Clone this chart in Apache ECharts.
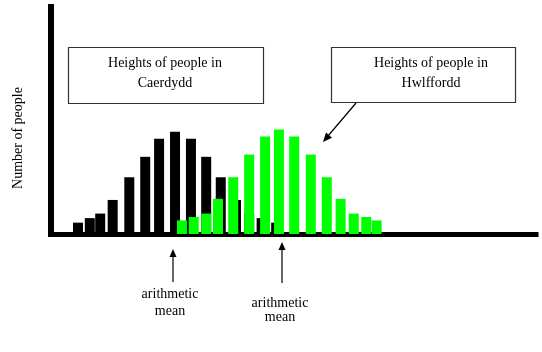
<!DOCTYPE html>
<html>
<head>
<meta charset="utf-8">
<script src="https://cdn.jsdelivr.net/npm/echarts@6/dist/echarts.min.js"></script>
<style>
  html, body { margin: 0; padding: 0; background: #fff; }
  #chart { width: 542px; height: 352px; }
</style>
</head>
<body>
<div id="chart"></div>
<script>
var caerdyddHeights = [148.9, 150.6, 152.1, 153.9, 156.3, 158.6, 160.6, 162.9, 165.2, 167.4, 169.5, 171.7, 173.6, 175.4, 177.5];
var caerdyddCounts  = [5, 7, 9, 15, 25, 34, 42, 45, 42, 34, 25, 15, 9, 7, 5];
var hwlffHeights    = [163.9, 165.6, 167.4, 169.1, 171.3, 173.6, 175.9, 177.9, 180.1, 182.5, 184.8, 186.8, 188.7, 190.5, 192.0];
var hwlffCounts     = [6, 7.5, 9, 15.5, 25, 35, 43, 46, 43, 35, 25, 15.5, 9, 7.5, 6];

function pairs(xs, ys) {
    return xs.map(function (x, i) { return [x, ys[i]]; });
}

var chart = echarts.init(document.getElementById('chart'));
var serif = '"Liberation Serif", "DejaVu Serif", serif';

var option = {
    animation: false,
    grid: { left: 51, right: 6, top: 7, bottom: 118 },
    xAxis: {
        type: 'value',
        min: 145,
        max: 215,
        axisLine: { show: true, lineStyle: { color: '#000', width: 5, cap: 'square' } },
        axisTick: { show: false },
        axisLabel: { show: false },
        splitLine: { show: false }
    },
    yAxis: {
        type: 'value',
        min: 0,
        max: 100,
        axisLine: { show: true, lineStyle: { color: '#000', width: 6, cap: 'square' } },
        axisTick: { show: false },
        axisLabel: { show: false },
        splitLine: { show: false }
    },
    series: [
        {
            name: 'Caerdydd',
            type: 'bar',
            data: pairs(caerdyddHeights, caerdyddCounts),
            barWidth: 10,
            barGap: '-100%',
            itemStyle: { color: '#000' },
            z: 1
        },
        {
            name: 'Hwlffordd',
            type: 'bar',
            data: pairs(hwlffHeights, hwlffCounts),
            barWidth: 10,
            barGap: '-100%',
            itemStyle: { color: '#00ff00' },
            z: 2
        }
    ],
    graphic: [
        // y axis title
        {
            type: 'text', x: 18, y: 138, rotation: Math.PI / 2,
            style: { text: 'Number of people', font: '14px ' + serif, fill: '#000', align: 'center', verticalAlign: 'middle' }
        },
        // Caerdydd box
        {
            type: 'rect', shape: { x: 68.5, y: 47.5, width: 195, height: 56 },
            style: { fill: '#fff', stroke: '#333', lineWidth: 1.2 }
        },
        {
            type: 'text', x: 165, y: 73,
            style: { text: 'Heights of people in\nCaerdydd', font: '14px ' + serif, lineHeight: 20, fill: '#000', align: 'center', verticalAlign: 'middle' }
        },
        // Hwlffordd box + callout
        {
            type: 'rect', shape: { x: 331.5, y: 47.5, width: 184, height: 55 },
            style: { fill: '#fff', stroke: '#333', lineWidth: 1.2 }
        },
        {
            type: 'text', x: 431, y: 73,
            style: { text: 'Heights of people in\nHwlffordd', font: '14px ' + serif, lineHeight: 20, fill: '#000', align: 'center', verticalAlign: 'middle' }
        },
        {
            type: 'line', shape: { x1: 356, y1: 103, x2: 328, y2: 136 },
            style: { stroke: '#000', lineWidth: 1.2 }
        },
        {
            type: 'polygon', shape: { points: [[323, 142], [332, 137.8], [326, 132.6]] },
            style: { fill: '#000' }
        },
        // mean arrows
        {
            type: 'line', shape: { x1: 173, y1: 256, x2: 173, y2: 282 },
            style: { stroke: '#000', lineWidth: 1.2 }
        },
        {
            type: 'polygon', shape: { points: [[173, 249], [169.5, 257], [176.5, 257]] },
            style: { fill: '#000' }
        },
        {
            type: 'text', x: 170, y: 303,
            style: { text: 'arithmetic\nmean', font: '14px ' + serif, lineHeight: 17, fill: '#000', align: 'center', verticalAlign: 'middle' }
        },
        {
            type: 'line', shape: { x1: 282, y1: 249, x2: 282, y2: 283 },
            style: { stroke: '#000', lineWidth: 1.2 }
        },
        {
            type: 'polygon', shape: { points: [[282, 242], [278.5, 250], [285.5, 250]] },
            style: { fill: '#000' }
        },
        {
            type: 'text', x: 280, y: 310,
            style: { text: 'arithmetic\nmean', font: '14px ' + serif, lineHeight: 14, fill: '#000', align: 'center', verticalAlign: 'middle' }
        }
    ]
};

chart.setOption(option);
</script>
</body>
</html>
